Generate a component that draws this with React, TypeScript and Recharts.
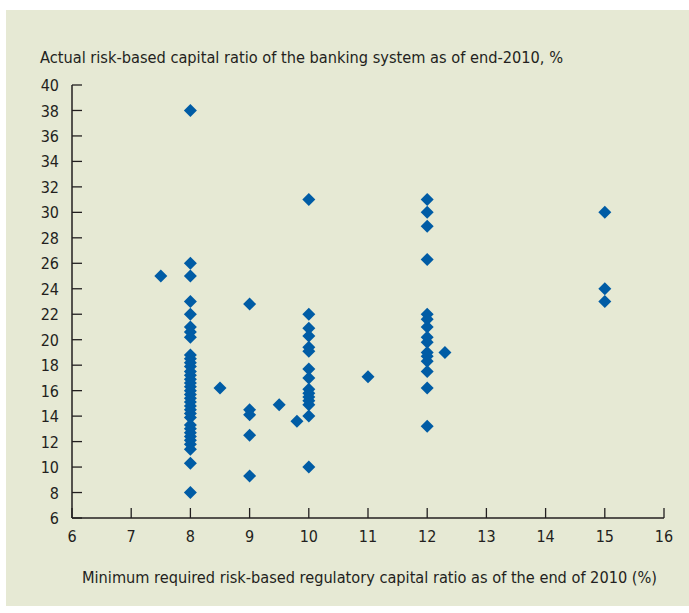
import React from 'react';
import { ScatterChart, Scatter, XAxis, YAxis } from 'recharts';

// Minimum required ratio (x) -> actual ratios (y)
const req7_5 = [25];
const req8 = [38, 26, 25, 23, 22, 21, 20.6, 20.2, 18.8, 18.5, 18.2, 17.9, 17.5, 17.2, 16.9, 16.6, 16.3, 16.0, 15.7, 15.4, 15.1, 14.8, 14.5, 14.2, 13.9, 13.3, 13.0, 12.7, 12.4, 12.1, 11.8, 11.4, 10.3, 8.0];
const req8_5 = [16.2];
const req9 = [22.8, 14.5, 14.1, 12.5, 9.3];
const req9_5 = [14.9];
const req9_8 = [13.6];
const req10 = [31, 22, 20.9, 20.3, 19.4, 19.1, 17.7, 17.0, 16.1, 15.8, 15.5, 15.2, 14.9, 14.0, 10.0];
const req11 = [17.1];
const req12 = [31, 30, 28.9, 26.3, 22.0, 21.6, 21.0, 20.2, 19.8, 19.0, 18.7, 18.3, 17.5, 16.2, 13.2];
const req12_3 = [19.0];
const req15 = [30, 24, 23];

const groups: [number, number[]][] = [
  [7.5, req7_5], [8, req8], [8.5, req8_5], [9, req9], [9.5, req9_5], [9.8, req9_8],
  [10, req10], [11, req11], [12, req12], [12.3, req12_3], [15, req15],
];

const xTicks = [6, 7, 8, 9, 10, 11, 12, 13, 14, 15, 16];
const yTicks = [6, 8, 10, 12, 14, 16, 18, 20, 22, 24, 26, 28, 30, 32, 34, 36, 38, 40];

const title = 'Actual risk-based capital ratio of the banking system as of end-2010, %';
const xTitle = 'Minimum required risk-based regulatory capital ratio as of the end of 2010 (%)';

const data = groups.flatMap(([x, ys]) => ys.map((y) => ({ x, y })));

const BG = '#E6E9D4';
const BLUE = '#005CA5';
const INK = '#231F20';
const FONT = '"Liberation Sans Narrow", "DejaVu Sans Condensed", "Roboto Condensed", sans-serif';
const FS = 16;

const Diamond = (props: any) => {
  const { cx, cy } = props;
  const r = 6.5;
  return <path d={`M${cx},${cy - r}L${cx + r},${cy}L${cx},${cy + r}L${cx - r},${cy}Z`} fill={BLUE} />;
};

const YTick = (props: any) => {
  const { x, y, payload } = props;
  const m = 13;
  return (
    <g>
      <line x1={x + m} x2={x + m + 10} y1={y} y2={y} stroke={INK} strokeWidth={1.3} />
      <text x={x} y={y} dy="0.38em" textAnchor="end" fill={INK} fontSize={FS} fontFamily={FONT}>{payload.value}</text>
    </g>
  );
};

const XTick = (props: any) => {
  const { x, y, payload } = props;
  const m = 12;
  return (
    <g>
      <line x1={x} x2={x} y1={y - m} y2={y - m - 10} stroke={INK} strokeWidth={1.3} />
      <text x={x} y={y} dy="0.74em" textAnchor="middle" fill={INK} fontSize={FS} fontFamily={FONT}>{payload.value}</text>
    </g>
  );
};

export default function App() {
  return (
    <div style={{ position: 'fixed', left: 0, top: 0, width: 689, height: 613, background: '#fff' }}>
      <div style={{ position: 'absolute', left: 6, top: 10, width: 683, height: 596, background: BG }} />
      <div style={{ position: 'absolute', left: 0, top: 0 }}>
        <ScatterChart width={689} height={613} margin={{ top: 85, right: 25, bottom: 65, left: 32 }}>
          <XAxis
            type="number"
            dataKey="x"
            domain={[6, 16]}
            ticks={xTicks}
            interval={0}
            height={30}
            tickSize={0}
            tickMargin={12}
            tick={<XTick />}
            axisLine={{ stroke: INK, strokeWidth: 1.5 }}
            tickLine={false}
            allowDataOverflow
          />
          <YAxis
            type="number"
            dataKey="y"
            domain={[6, 40]}
            ticks={yTicks}
            interval={0}
            width={40}
            tickSize={0}
            tickMargin={13}
            tick={<YTick />}
            axisLine={{ stroke: INK, strokeWidth: 1.5 }}
            tickLine={false}
            allowDataOverflow
          />
          <Scatter data={data} shape={<Diamond />} isAnimationActive={false} />
        </ScatterChart>
      </div>
      <svg width={689} height={613} style={{ position: 'absolute', left: 0, top: 0, pointerEvents: 'none' }}>
        <text x={40} y={63} fill={INK} fontSize={FS} fontFamily={FONT} textLength={523} lengthAdjust="spacingAndGlyphs">{title}</text>
        <text x={82} y={583} fill={INK} fontSize={FS} fontFamily={FONT} textLength={575} lengthAdjust="spacingAndGlyphs">{xTitle}</text>
      </svg>
    </div>
  );
}
